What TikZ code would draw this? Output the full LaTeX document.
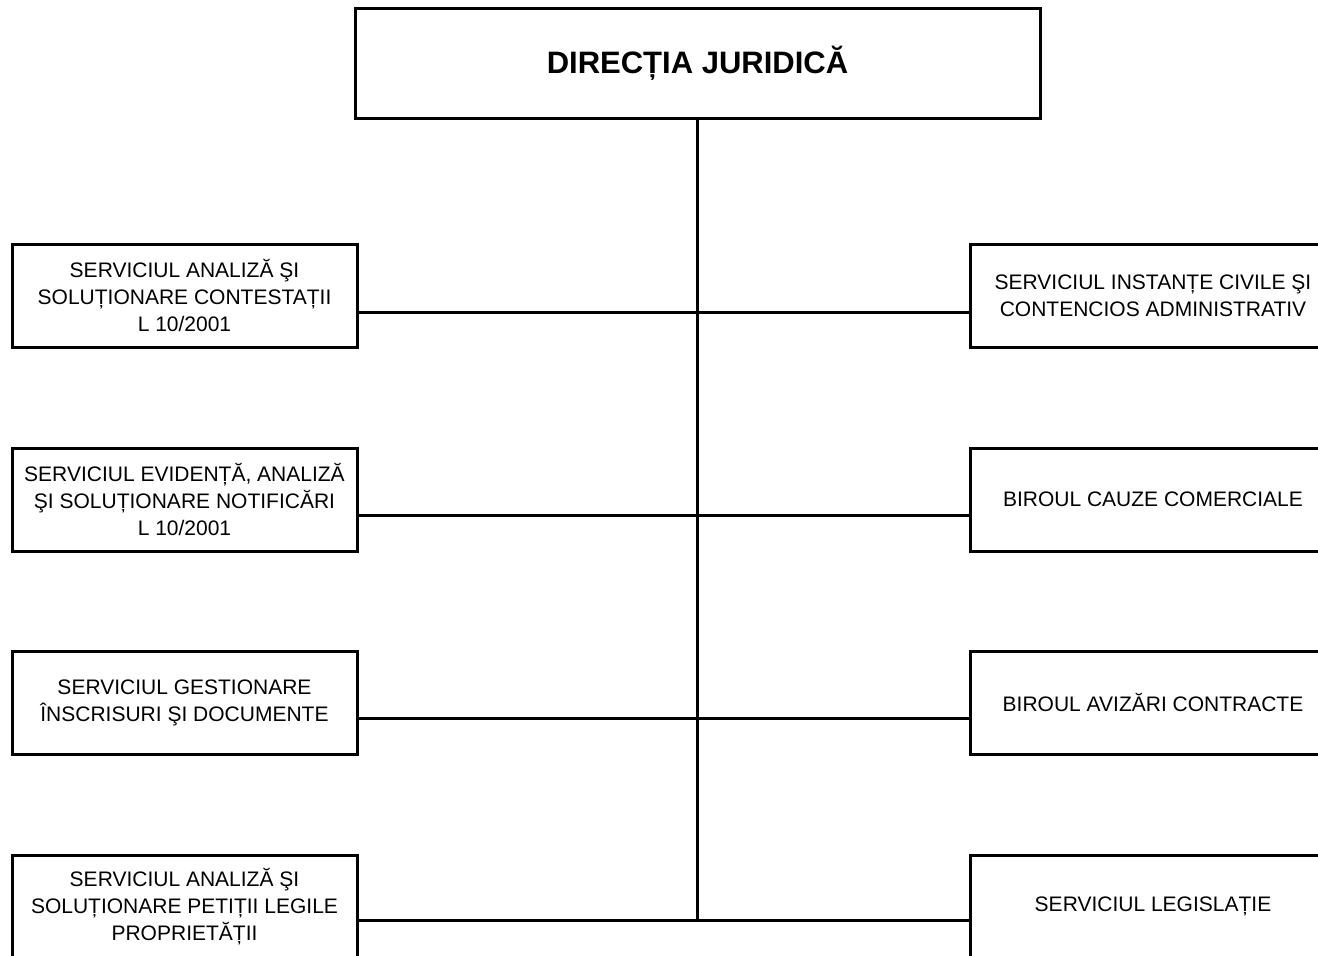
\documentclass[tikz,border=0pt]{standalone}
\usepackage{fontspec}
\setmainfont{Liberation Sans}
\begin{document}
\begin{tikzpicture}[x=1pt,y=-1pt,
  unitbox/.style={draw, line width=3pt, minimum width=345pt, minimum height=103pt, inner sep=0pt, align=center, font=\fontsize{21}{27}\selectfont},
  rbox/.style={unitbox, minimum width=366pt},
  link/.style={line width=3pt}]
\useasboundingbox (0,0) rectangle (1318,956);
\begin{scope}
\clip (0,0) rectangle (1318,956);
\node[draw, line width=3pt, minimum width=685pt, minimum height=110pt, inner sep=0pt, font=\bfseries\fontsize{31}{37}\selectfont] (top) at (697.5,63) {DIRECȚIA JURIDICĂ};

\node[unitbox] (l1) at (184.5,295.5) {SERVICIUL ANALIZĂ ŞI\\SOLUȚIONARE CONTESTAȚII\\L 10/2001};
\node[unitbox] (l2) at (184.5,499.5) {SERVICIUL EVIDENȚĂ, ANALIZĂ\\ŞI SOLUȚIONARE NOTIFICĂRI\\L 10/2001};
\node[unitbox] (l3) at (184.5,702.5) {SERVICIUL GESTIONARE\\ÎNSCRISURI ŞI DOCUMENTE};
\node[unitbox] (l4) at (184.5,906.5) {SERVICIUL ANALIZĂ ŞI\\SOLUȚIONARE PETIȚII LEGILE\\PROPRIETĂȚII};

\node[rbox] (r1) at (1153,295.5) {SERVICIUL INSTANȚE CIVILE ŞI\\CONTENCIOS ADMINISTRATIV};
\node[rbox] (r2) at (1153,499.5) {BIROUL CAUZE COMERCIALE};
\node[rbox] (r3) at (1153,702.5) {BIROUL AVIZĂRI CONTRACTE};
\node[rbox] (r4) at (1153,906.5) {SERVICIUL LEGISLAȚIE};
\end{scope}

\coordinate (j1) at (697,312);
\coordinate (j2) at (697,515);
\coordinate (j3) at (697,718);
\coordinate (j4) at (697,920);

\draw[link] (top.south -| j1) -- (j4);
\draw[link] (l1.east |- j1) -- (r1.west |- j1);
\draw[link] (l2.east |- j2) -- (r2.west |- j2);
\draw[link] (l3.east |- j3) -- (r3.west |- j3);
\draw[link] (l4.east |- j4) -- (r4.west |- j4);
\end{tikzpicture}
\end{document}
